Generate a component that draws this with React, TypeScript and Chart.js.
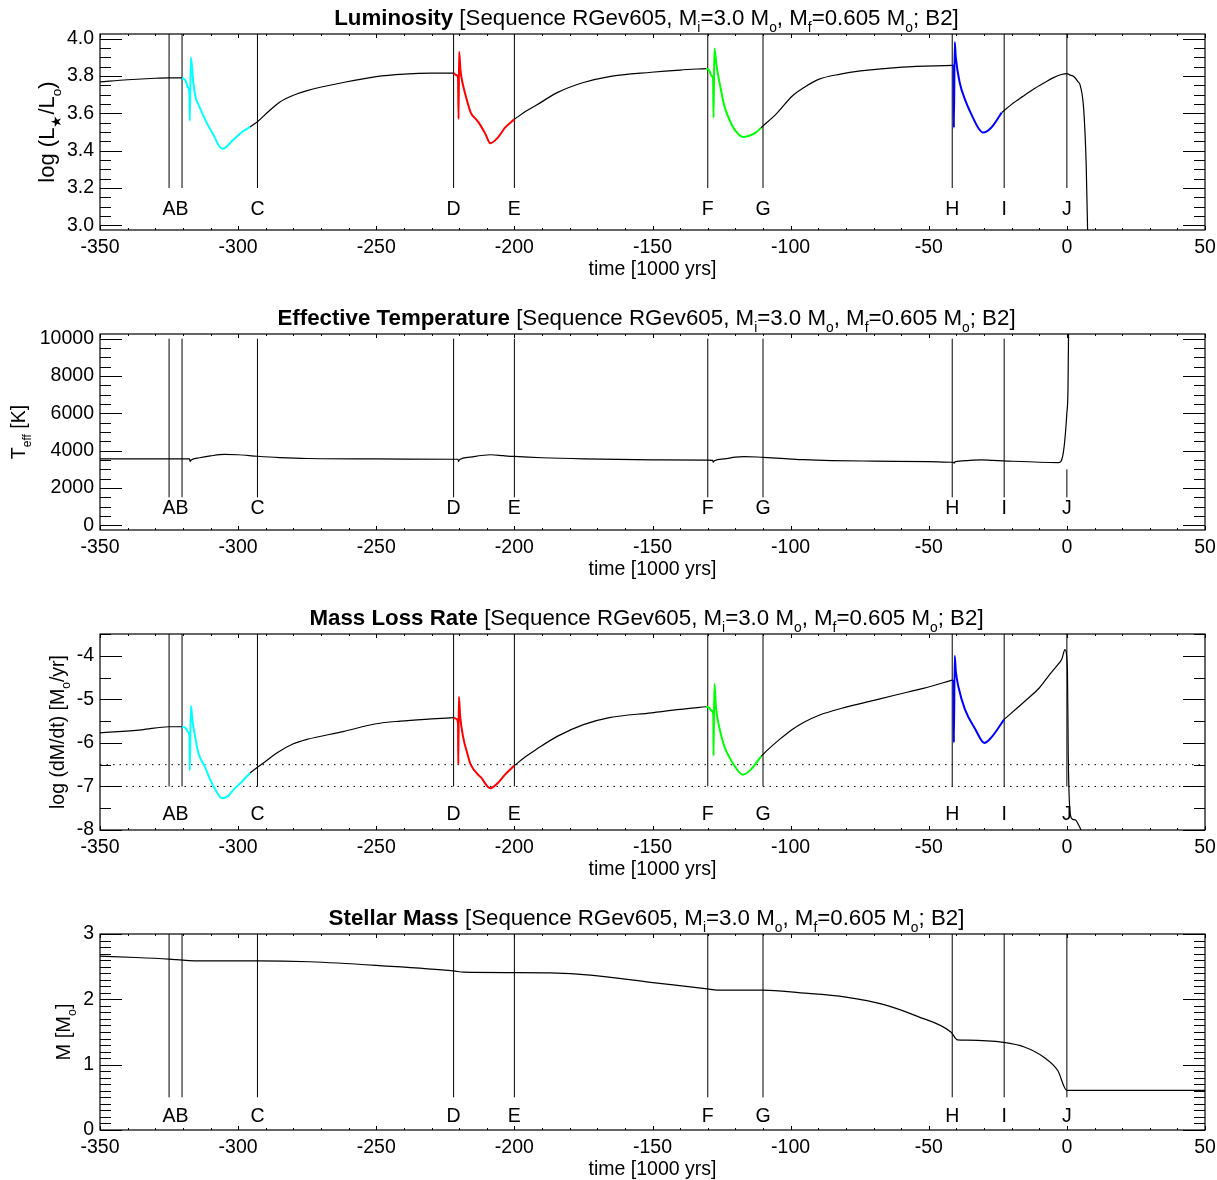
import React, { useEffect, useRef } from "react";
import { Chart, registerables } from "chart.js";
Chart.register(...registerables);

type P = [number, number];
type Part = { t: string; b?: boolean; s?: boolean };

// ---------- shared axis / marker data ----------
const timeMin = -350;
const timeMax = 50;
const timeTickLabels = ["-350", "-300", "-250", "-200", "-150", "-100", "-50", "0", "50"];
const markerNames = ["A", "B", "C", "D", "E", "F", "G", "H", "I", "J"];
const markerTimes = [-325, -320.3, -293, -222, -200, -130, -110, -41.5, -22.7, 0];

// ---------- Luminosity (log L/Lsun) ----------
const lumBlack: P[][] = [
  [[-350, 3.768], [-340, 3.78], [-330, 3.788], [-325, 3.79], [-320.3, 3.79]],
  [[-295.7, 3.527], [-293, 3.555], [-289, 3.61], [-285, 3.66], [-280, 3.697], [-275, 3.722], [-262, 3.765], [-250, 3.797], [-240, 3.81], [-230, 3.815], [-222, 3.815]],
  [[-200, 3.568], [-196, 3.61], [-192.1, 3.643], [-184.5, 3.711], [-175, 3.765], [-165.6, 3.797], [-150.4, 3.82], [-140, 3.832], [-130.6, 3.84]],
  [[-110.7, 3.523], [-105, 3.60], [-99.4, 3.693], [-95, 3.74], [-89.9, 3.782], [-82, 3.81], [-74.7, 3.827], [-59.6, 3.848], [-41.6, 3.857]],
  [[-23.6, 3.604], [-20, 3.648], [-16, 3.69], [-12, 3.73], [-8, 3.765], [-5, 3.79], [-2, 3.808], [0, 3.813], [1, 3.806], [2.5, 3.797], [4, 3.77], [4.9, 3.746], [6.1, 3.62], [7, 3.32], [7.6, 2.9]],
];
const lumCyan: P[] = [[-320.3, 3.79], [-319, 3.775], [-318.2, 3.74], [-317.6, 3.70], [-317.5, 3.56], [-317.1, 3.90], [-316.2, 3.76], [-315.3, 3.68], [-314.4, 3.648], [-311.4, 3.55], [-308.7, 3.478], [-306.9, 3.425], [-305.6, 3.41], [-301.7, 3.46], [-298.1, 3.505], [-295.7, 3.527]];
const lumRed: P[] = [[-222, 3.815], [-221, 3.805], [-220.4, 3.79], [-220.2, 3.57], [-220, 3.93], [-219.5, 3.83], [-219, 3.78], [-217.6, 3.693], [-215.8, 3.604], [-214, 3.57], [-212.9, 3.55], [-210.5, 3.49], [-208.7, 3.44], [-206, 3.47], [-203.4, 3.523], [-200, 3.568]];
const lumGreen: P[] = [[-130.6, 3.84], [-129.5, 3.83], [-128.6, 3.80], [-128.1, 3.79], [-127.9, 3.577], [-127.6, 3.947], [-126.8, 3.854], [-125.5, 3.746], [-124, 3.64], [-121.1, 3.532], [-119, 3.49], [-117.3, 3.473], [-115, 3.48], [-112.6, 3.497], [-110.7, 3.523]];
const lumBlue: P[] = [[-41.6, 3.857], [-41.0, 3.85], [-40.9, 3.523], [-40.6, 3.982], [-40.2, 3.90], [-38.8, 3.765], [-36.9, 3.675], [-34, 3.577], [-32, 3.52], [-30.3, 3.497], [-27.4, 3.523], [-23.6, 3.604]];
const lumTickLabels = ["3.0", "3.2", "3.4", "3.6", "3.8", "4.0"];

// ---------- Effective temperature (K) ----------
const teffBlack: P[][] = [
  [[-350, 3560], [-320, 3560], [-317.6, 3560], [-317.4, 3420], [-317, 3500], [-314, 3620], [-310, 3720], [-305, 3800], [-300, 3780], [-293, 3700], [-285, 3630], [-275, 3580], [-250, 3560], [-222, 3540], [-220.4, 3540], [-220.2, 3430], [-219.8, 3530], [-216, 3650], [-212, 3740], [-208.5, 3780], [-204, 3730], [-200, 3690], [-190, 3620], [-175, 3560], [-150, 3510], [-130, 3490], [-128.2, 3480], [-128, 3380], [-127.6, 3460], [-124, 3560], [-120, 3650], [-117, 3680], [-112, 3660], [-110, 3640], [-102, 3575], [-95, 3515], [-85, 3470], [-70, 3440], [-50, 3410], [-41.5, 3380], [-41, 3380], [-40.8, 3330], [-40.5, 3400], [-36, 3470], [-31, 3508], [-27, 3480], [-23, 3455], [-10, 3380], [-3, 3364], [-1.3, 3884], [0, 6030], [0.4, 7280], [0.6, 10140], [0.8, 11000]],
];
const teffTickLabels = ["0", "2000", "4000", "6000", "8000", "10000"];

// ---------- Mass loss rate (log dM/dt) ----------
const mdotBlack: P[][] = [
  [[-350, -5.77], [-335, -5.70], [-325, -5.63], [-320.3, -5.63]],
  [[-295.7, -6.69], [-293, -6.56], [-290, -6.42], [-286, -6.23], [-280, -6.02], [-275.1, -5.92], [-262, -5.74], [-250, -5.56], [-241.3, -5.50], [-230, -5.45], [-222, -5.42]],
  [[-200, -6.52], [-196, -6.32], [-192.1, -6.15], [-184.5, -5.85], [-175, -5.58], [-165.6, -5.42], [-150.4, -5.31], [-140, -5.23], [-130.6, -5.17]],
  [[-110.7, -6.31], [-108.8, -6.19], [-104, -5.92], [-99.4, -5.69], [-95, -5.52], [-89.9, -5.37], [-80, -5.18], [-71, -5.04], [-62, -4.90], [-52, -4.75], [-41.6, -4.56]],
  [[-22.7, -5.46], [-18, -5.2], [-14.1, -4.98], [-10, -4.74], [-6.6, -4.46], [-3.5, -4.22], [-1.85, -4.08], [-0.7, -3.86], [0.2, -4.3], [0.5, -6.3], [1.2, -7.62], [2, -7.75], [3.3, -7.78], [4.2, -7.88], [5.1, -8.0], [5.6, -8.1]],
];
const mdotCyan: P[] = [[-320.3, -5.63], [-319, -5.66], [-318.2, -5.75], [-317.6, -5.85], [-317.5, -6.63], [-317.1, -5.15], [-316.5, -5.5], [-315.8, -5.77], [-314.4, -6.23], [-312, -6.55], [-310.1, -6.85], [-308, -7.1], [-305.9, -7.27], [-304, -7.24], [-301.7, -7.08], [-298.5, -6.88], [-295.7, -6.69]];
const mdotRed: P[] = [[-222, -5.42], [-221, -5.45], [-220.4, -5.55], [-220.3, -6.49], [-220.1, -4.94], [-219.6, -5.4], [-218.6, -5.85], [-217, -6.25], [-215.8, -6.50], [-212, -6.8], [-208.7, -7.04], [-206, -6.92], [-203.4, -6.73], [-200, -6.52]];
const mdotGreen: P[] = [[-130.6, -5.17], [-129.4, -5.2], [-128.5, -5.27], [-128, -5.35], [-127.9, -6.29], [-127.6, -4.65], [-127, -5.2], [-125.9, -5.62], [-124, -6.08], [-122, -6.35], [-120.2, -6.54], [-117.3, -6.73], [-114.5, -6.62], [-110.7, -6.31]];
const mdotBlue: P[] = [[-41.6, -4.56], [-41.0, -4.6], [-40.9, -5.99], [-40.6, -4.0], [-40.2, -4.35], [-39.2, -4.73], [-36.9, -5.23], [-33.1, -5.69], [-29.9, -6.0], [-27.4, -5.88], [-22.7, -5.46]];
const mdotLevels = [-6.5, -7.0];
const mdotTickLabels = ["-8", "-7", "-6", "-5", "-4"];

// ---------- Stellar mass (Msun) ----------
const massBlack: P[][] = [
  [[-350, 2.66], [-337, 2.64], [-325, 2.615], [-320, 2.60], [-315, 2.59], [-293, 2.59], [-274, 2.575], [-250, 2.52], [-222, 2.435], [-218.4, 2.415], [-200, 2.41], [-187, 2.405], [-172.5, 2.37], [-150.7, 2.26], [-130.2, 2.16], [-126.6, 2.14], [-110, 2.14], [-96.4, 2.10], [-80, 2.035], [-66.2, 1.92], [-54.1, 1.74], [-42, 1.50], [-39.6, 1.38], [-36, 1.375], [-22.9, 1.34], [-15.4, 1.27], [-8.2, 1.11], [-3.3, 0.91], [0, 0.605], [50, 0.605]],
];
const massTickLabels = ["0", "1", "2", "3"];

// ---------- drawing helpers ----------
const FONT = '"Liberation Sans", Arial, Helvetica, sans-serif';

function fontFor(p: Part, size: number) {
  const s = p.s ? size * 0.62 : size;
  return `${p.b ? "bold " : ""}${s}px ${FONT}`;
}
function richWidth(ctx: CanvasRenderingContext2D, parts: Part[], size: number) {
  let w = 0;
  for (const p of parts) {
    ctx.font = fontFor(p, size);
    w += ctx.measureText(p.t).width;
  }
  return w;
}
function drawRich(ctx: CanvasRenderingContext2D, parts: Part[], cx: number, baseline: number, size: number) {
  let x = cx - richWidth(ctx, parts, size) / 2;
  ctx.textAlign = "left";
  ctx.textBaseline = "alphabetic";
  for (const p of parts) {
    ctx.font = fontFor(p, size);
    ctx.fillText(p.t, x, p.s ? baseline + size * 0.3 : baseline);
    x += ctx.measureText(p.t).width;
  }
}

const seqParts: Part[] = [
  { t: " [Sequence RGev605, M" }, { t: "i", s: true }, { t: "=3.0 M" }, { t: "o", s: true },
  { t: ", M" }, { t: "f", s: true }, { t: "=0.605 M" }, { t: "o", s: true }, { t: "; B2]" },
];

type PanelCfg = {
  height: number;
  title: string;
  yTitle: Part[];
  yTitleX: number;
  yTitleSize: number;
  yMin: number;
  yMax: number;
  tickLabels: string[];
  minorStep: number;
  black: P[][];
  colored: { pts: P[]; color: string }[];
  levels: number[];
  markerLow: number;
  markerHigh: number;
  jLow?: number;
  jHigh?: number;
  labelOffset: number;
};

const panels: PanelCfg[] = [
  {
    height: 300, title: "Luminosity",
    yTitle: [{ t: "log (L" }, { t: "★", s: true }, { t: "/L" }, { t: "o", s: true }, { t: ")" }],
    yTitleX: 46, yTitleSize: 22, yMin: 2.975, yMax: 4.025, tickLabels: lumTickLabels, minorStep: 0.05,
    black: lumBlack,
    colored: [{ pts: lumCyan, color: "#00ffff" }, { pts: lumRed, color: "#ff0000" }, { pts: lumGreen, color: "#00ff00" }, { pts: lumBlue, color: "#0000ff" }],
    levels: [], markerLow: 3.2, markerHigh: 4.025, labelOffset: 20,
  },
  {
    height: 300, title: "Effective Temperature",
    yTitle: [{ t: "T" }, { t: "eff", s: true }, { t: " [K]" }],
    yTitleX: 18, yTitleSize: 19.5, yMin: -250, yMax: 10250, tickLabels: teffTickLabels, minorStep: 500,
    black: teffBlack, colored: [], levels: [],
    markerLow: 1500, markerHigh: 10000, jLow: 1500, jHigh: 3000, labelOffset: 21,
  },
  {
    height: 300, title: "Mass Loss Rate",
    yTitle: [{ t: "log (dM/dt) [M" }, { t: "o", s: true }, { t: "/yr]" }],
    yTitleX: 57, yTitleSize: 19.5, yMin: -8, yMax: -3.5, tickLabels: mdotTickLabels, minorStep: 0.5,
    black: mdotBlack,
    colored: [{ pts: mdotCyan, color: "#00ffff" }, { pts: mdotRed, color: "#ff0000" }, { pts: mdotGreen, color: "#00ff00" }, { pts: mdotBlue, color: "#0000ff" }],
    levels: mdotLevels, markerLow: -7, markerHigh: -3.5, labelOffset: 15,
  },
  {
    height: 280, title: "Stellar Mass",
    yTitle: [{ t: "M [M" }, { t: "o", s: true }, { t: "]" }],
    yTitleX: 63, yTitleSize: 20, yMin: 0, yMax: 3, tickLabels: massTickLabels, minorStep: 0.1,
    black: massBlack, colored: [], levels: [],
    markerLow: 0.5, markerHigh: 3, labelOffset: 13,
  },
];

const toXY = (pts: P[]) => pts.map(([x, y]) => ({ x, y }));

function Panel({ cfg }: { cfg: PanelCfg }) {
  const ref = useRef<HTMLCanvasElement>(null);
  useEffect(() => {
    const canvas = ref.current!;
    const datasets: any[] = [];
    cfg.colored.forEach((c) =>
      datasets.push({ data: toXY(c.pts), borderColor: c.color, borderWidth: 2, order: 0, cubicInterpolationMode: "monotone" })
    );
    cfg.black.forEach((seg) =>
      datasets.push({ data: toXY(seg), borderColor: "#000", borderWidth: 1.2, order: 1, cubicInterpolationMode: "monotone" })
    );
    cfg.levels.forEach((lv) =>
      datasets.push({ data: toXY([[timeMin, lv], [timeMax, lv]]), borderColor: "#000", borderWidth: 1, borderDash: [1.5, 5], order: 3 })
    );
    markerTimes.forEach((t, i) => {
      const isJ = markerNames[i] === "J";
      const lo = isJ && cfg.jLow !== undefined ? cfg.jLow : cfg.markerLow;
      const hi = isJ && cfg.jHigh !== undefined ? cfg.jHigh : cfg.markerHigh;
      datasets.push({ data: toXY([[t, lo], [t, hi]]), borderColor: "#000", borderWidth: 1, order: 2 });
    });

    const frame = {
      id: "idlFrame",
      afterDraw(chart: any) {
        const ctx: CanvasRenderingContext2D = chart.ctx;
        const xs = chart.scales.x;
        const ys = chart.scales.y;
        const { left, right, top, bottom } = chart.chartArea;
        ctx.save();
        ctx.strokeStyle = "#000";
        ctx.fillStyle = "#000";
        ctx.lineWidth = 1.2;
        ctx.strokeRect(left, top, right - left, bottom - top);
        ctx.lineWidth = 1;
        // x ticks
        ctx.beginPath();
        for (let v = timeMin; v <= timeMax + 1e-9; v += 10) {
          const px = Math.round(xs.getPixelForValue(v)) + 0.5;
          const major = Math.abs(v % 50) < 1e-9;
          const len = major ? 4 : 2;
          ctx.moveTo(px, bottom); ctx.lineTo(px, bottom - len);
          ctx.moveTo(px, top); ctx.lineTo(px, top + len);
        }
        // y ticks
        const majors = cfg.tickLabels.map(Number);
        const startMinor = Math.ceil(cfg.yMin / cfg.minorStep - 1e-9);
        for (let k = startMinor; k * cfg.minorStep <= cfg.yMax + 1e-9; k++) {
          const v = k * cfg.minorStep;
          const py = Math.round(ys.getPixelForValue(v)) + 0.5;
          const major = majors.some((m) => Math.abs(m - v) < 1e-6);
          const len = major ? 22 : 11;
          ctx.moveTo(left, py); ctx.lineTo(left + len, py);
          ctx.moveTo(right, py); ctx.lineTo(right - len, py);
        }
        ctx.stroke();
        // tick labels
        ctx.font = `19.5px ${FONT}`;
        ctx.textAlign = "center";
        ctx.textBaseline = "middle";
        timeTickLabels.forEach((lab) => {
          ctx.fillText(lab, xs.getPixelForValue(Number(lab)), bottom + 18);
        });
        ctx.textAlign = "right";
        cfg.tickLabels.forEach((lab) => {
          ctx.fillText(lab, left - 6, ys.getPixelForValue(Number(lab)));
        });
        // marker letters
        ctx.textAlign = "center";
        ctx.font = `19.5px ${FONT}`;
        markerTimes.forEach((t, i) => {
          ctx.fillText(markerNames[i], xs.getPixelForValue(t), bottom - cfg.labelOffset);
        });
        // x title
        ctx.fillText("time [1000 yrs]", (left + right) / 2, bottom + 40);
        // title
        drawRich(ctx, [{ t: cfg.title, b: true }, ...seqParts], (left + right) / 2 - 6, 25, 22.3);
        // y title
        ctx.translate(cfg.yTitleX, (top + bottom) / 2);
        ctx.rotate(-Math.PI / 2);
        drawRich(ctx, cfg.yTitle, 0, cfg.yTitleSize * 0.36, cfg.yTitleSize);
        ctx.restore();
      },
    };

    const chart = new Chart(canvas, {
      type: "line",
      data: { datasets },
      options: {
        responsive: false,
        animation: false,
        devicePixelRatio: 1,
        layout: { padding: { left: 100, right: 12, top: 34, bottom: cfg.height - 230 } },
        elements: { point: { radius: 0 }, line: { tension: 0 } },
        scales: {
          x: { type: "linear", min: timeMin, max: timeMax, display: false },
          y: { type: "linear", min: cfg.yMin, max: cfg.yMax, display: false },
        },
        plugins: { legend: { display: false }, tooltip: { enabled: false } },
      },
      plugins: [frame],
    } as any);
    return () => chart.destroy();
  }, [cfg]);
  return <canvas ref={ref} width={1217} height={cfg.height} style={{ display: "block" }} />;
}

export default function App() {
  useEffect(() => {
    document.body.style.margin = "0";
    document.body.style.background = "#fff";
  }, []);
  return (
    <div style={{ width: 1217, background: "#fff" }}>
      {panels.map((p, i) => (
        <Panel key={i} cfg={p} />
      ))}
    </div>
  );
}
